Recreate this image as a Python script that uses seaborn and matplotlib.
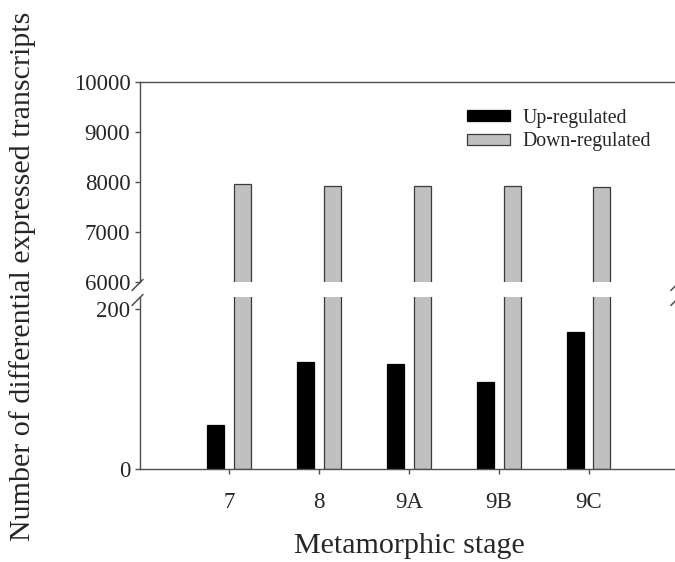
import matplotlib
matplotlib.use("Agg")
import matplotlib.pyplot as plt
from matplotlib.patches import Patch
import seaborn as sns
import pandas as pd

# Differentially expressed transcripts per metamorphic stage
stages = ["7", "8", "9A", "9B", "9C"]
up_regulated = [55, 134, 131, 109, 171]
down_regulated = [7967, 7913, 7913, 7927, 7893]
series_names = ["Up-regulated", "Down-regulated"]
series_colors = ["#000000", "#c0c0c0"]
edge_colors = ["#000000", "#3a3a3a"]

upper_ticks = [6000, 7000, 8000, 9000, 10000]
lower_ticks = [0, 200]

df = pd.DataFrame({
    "stage": stages * 2,
    "count": up_regulated + down_regulated,
    "regulation": [series_names[0]] * len(stages) + [series_names[1]] * len(stages),
})

sns.set_theme(style="white")
plt.rcParams["font.family"] = ["Liberation Serif", "DejaVu Serif"]

W, H = 675, 562
fig = plt.figure(figsize=(W / 100, H / 100), dpi=100)


def px_axes(left, top, right, bottom):
    return fig.add_axes([left / W, 1 - bottom / H, (right - left) / W, (bottom - top) / H])


ax_top = px_axes(139.5, 82, 678.3, 282)
ax_bot = px_axes(139.5, 297, 678.3, 469.3)

spine_color = "#505050"
for ax in (ax_top, ax_bot):
    sns.barplot(data=df, x="stage", y="count", hue="regulation", order=stages,
                hue_order=series_names, palette=series_colors, saturation=1,
                width=0.6, gap=0.37, errorbar=None, legend=False, ax=ax)
    for bar in ax.patches:
        fc = matplotlib.colors.to_hex(bar.get_facecolor())
        bar.set_edgecolor(edge_colors[0] if fc == "#000000" else edge_colors[1])
        bar.set_linewidth(0.9)
    ax.set_xlim(-1, 5)
    ax.set_xlabel("")
    ax.set_ylabel("")
    ax.spines["right"].set_visible(False)
    for s in ax.spines.values():
        s.set_color(spine_color)
        s.set_linewidth(1.0)
    ax.tick_params(axis="y", direction="out", length=3.6, width=1.0, color=spine_color,
                   labelsize=16.5, pad=3, left=True)

# upper panel: 6000-10000
ax_top.set_ylim(6000, 10000)
ax_top.set_yticks(upper_ticks)
ax_top.spines["bottom"].set_visible(False)
ax_top.tick_params(axis="x", bottom=False, labelbottom=False)

# lower panel: 0-200
ax_bot.set_ylim(0, 215)
ax_bot.set_yticks(lower_ticks)
ax_bot.spines["top"].set_visible(False)
ax_bot.tick_params(axis="x", direction="out", length=3.6, width=1.0, color=spine_color,
                   labelsize=16.5, pad=13, bottom=True)
ax_bot.set_xlabel("Metamorphic stage", fontsize=21.6, labelpad=14)

# break marks on both ends of the gap
mark = dict(color=spine_color, lw=1.1, clip_on=False)
for ax, yy in ((ax_top, 0), (ax_bot, 1)):
    for xx in (0, 1):
        x0, y0 = ax.transAxes.transform((xx, yy))
        x0 -= 2
        y0 -= 3
        pts = fig.transFigure.inverted().transform([(x0 - 5.5, y0 - 5.5), (x0 + 5.5, y0 + 5.5)])
        fig.add_artist(plt.Line2D(pts[:, 0], pts[:, 1], transform=fig.transFigure, **mark))

fig.text(23 / W, 1 - 276 / H, "Number of differential expressed transcripts",
         rotation=90, ha="center", va="center", fontsize=21.6)

handles = [Patch(facecolor=c, edgecolor=e, linewidth=0.9)
           for c, e in zip(series_colors, edge_colors)]
ax_top.legend(handles, series_names, loc="upper left", frameon=False,
              bbox_to_anchor=(466.5 / W, 1 - 108.5 / H), bbox_transform=fig.transFigure,
              fontsize=14.2, handlelength=2.2, handleheight=0.5, handletextpad=0.65,
              labelspacing=0.25, borderpad=0, borderaxespad=0)

fig.savefig("out.png", dpi=100)
